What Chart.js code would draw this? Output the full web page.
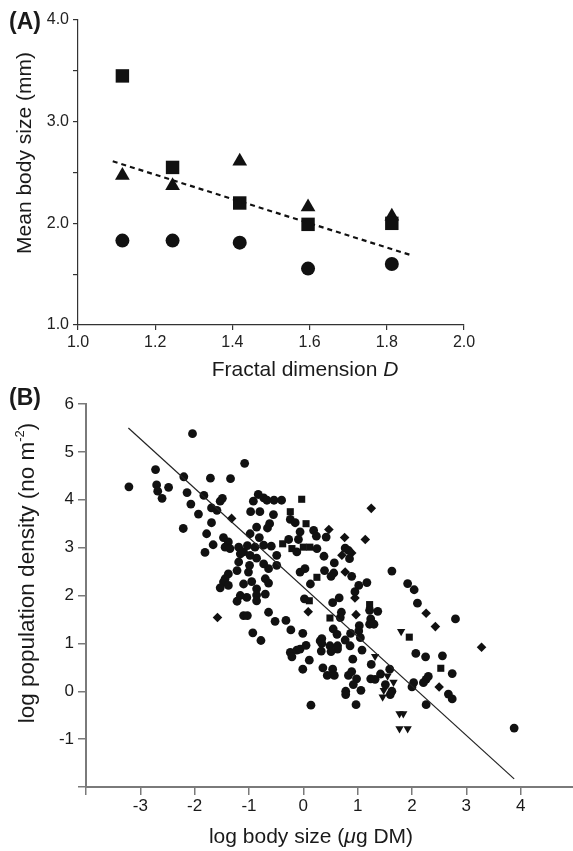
<!DOCTYPE html>
<html>
<head>
<meta charset="utf-8">
<script src="https://cdn.jsdelivr.net/npm/chart.js@4.4.1/dist/chart.umd.min.js"></script>
<style>
  html, body { margin: 0; padding: 0; background: #fff; overflow: hidden; }
  body { width: 573px; height: 851px; position: relative; font-family: "Liberation Sans", Arial, sans-serif; color: #1a1a1a; }
  .wrap { position: absolute; left: 0; }
  #wrapA { top: 0; width: 573px; height: 380px; }
  #wrapB { top: 370px; width: 580px; height: 481px; }
  .lbl { position: absolute; white-space: nowrap; font-size: 21px; line-height: 1; transform: translate(-50%, -50%); }
  .rot { transform: translate(-50%, -50%) rotate(-90deg); }
  .big { font-size: 22.5px; }
  .panel { font-weight: bold; font-size: 23px; }
  sup { font-size: 13px; vertical-align: 10px; line-height: 0; }
</style>
</head>
<body>
<div class="wrap" id="wrapA"><canvas id="chartA" width="573" height="380"></canvas></div>
<div class="wrap" id="wrapB"><canvas id="chartB" width="580" height="481"></canvas></div>

<div class="lbl panel" style="left:25px; top:21px;">(A)</div>
<div class="lbl rot" style="left:23px; top:153px;">Mean body size (mm)</div>
<div class="lbl" style="left:305px; top:368px;">Fractal dimension <i>D</i></div>

<div class="lbl panel" style="left:25px; top:397px;">(B)</div>
<div class="lbl rot big" style="left:27px; top:573px;">log population density (no m<sup>-2</sup>)</div>
<div class="lbl" style="left:311px; top:835px;">log body size (<i>μ</i>g DM)</div>

<script>
// Panel A data
const fractalD = [1.115, 1.245, 1.419, 1.596, 1.813];
const sizeSquares = [3.45, 2.55, 2.20, 1.99, 2.00];
const sizeTriangles = [2.47, 2.37, 2.61, 2.16, 2.07];
const sizeCircles = [1.83, 1.83, 1.81, 1.555, 1.60];
const trendAx = [1.09, 1.86];
const trendAy = [2.61, 1.69];
const xTicksA = [1.0, 1.2, 1.4, 1.6, 1.8, 2.0];
const yTicksA = [1.0, 2.0, 3.0, 4.0];

// Panel B data: [log body size, log density]
const circlesB = [
  [-2.04,5.38],[-1.08,4.76],[-2.72,4.63],[-3.21,4.27],[-2.70,4.31],[-2.68,4.18],[-2.48,4.26],[-2.60,4.03],
  [-2.20,4.48],[-1.71,4.45],[-1.34,4.44],[-2.14,4.15],[-2.07,3.91],[-1.83,4.09],[-1.93,3.70],[-2.21,3.40],
  [-1.69,3.83],[-1.59,3.78],[-1.53,3.97],[-1.49,4.03],[-1.69,3.52],[-1.78,3.29],[-1.81,2.90],[-1.66,3.06],
  [-1.47,3.21],[-1.38,3.12],[-1.44,3.01],[-1.35,2.98],[-1.19,3.01],[-1.10,2.91],[-1.03,3.04],[-0.98,3.29],
  [-0.86,3.43],[-0.81,3.21],[-0.89,3.01],[-0.73,3.05],[-0.62,3.50],[-0.66,3.41],[-0.59,3.03],[-0.92,3.97],
  [-0.83,4.11],[-0.73,4.04],[-0.67,3.99],[-0.54,3.99],[-0.40,3.99],[-0.97,3.75],[-0.80,3.75],[-0.55,3.69],
  [-0.24,3.59],[-0.15,3.52],[-0.06,3.33],[0.19,3.36],[0.24,3.24],[-0.09,3.17],[-0.27,3.17],[-0.12,2.91],
  [0.25,2.98],[-0.49,2.84],[-0.49,2.63],[-0.64,2.56],[-0.73,2.66],[-0.86,2.78],[-0.98,2.84],[-1.16,2.87],
  [-1.19,2.70],[-0.99,2.63],[-1.22,2.52],[-1.01,2.49],[-1.38,2.45],[-1.44,2.35],[-1.47,2.28],[-1.38,2.21],
  [-1.53,2.16],[-1.10,2.24],[-0.95,2.29],[-0.70,2.35],[-0.64,2.26],[-0.86,2.14],[-0.70,2.03],[-0.86,2.01],
  [-1.04,1.96],[-1.16,2.00],[-1.22,1.88],[-0.86,1.89],[-1.10,1.58],[-1.03,1.58],[-0.64,1.65],[-0.52,1.46],
  [-0.32,1.48],[-0.93,1.22],[-0.78,1.06],[-0.23,1.28],[-0.01,1.21],[0.02,1.93],[-0.06,2.49],[0.03,2.56],
  [0.13,2.24],[-0.24,0.81],[-0.12,0.86],[-0.06,0.88],[-0.21,0.72],[0.05,0.96],[0.11,0.65],[-0.01,0.46],
  [0.14,-0.29],[0.31,1.05],
  [0.42,3.22],[0.77,2.99],[0.85,2.77],[0.38,2.82],[0.57,2.68],[0.39,2.52],[0.56,2.47],[0.51,2.40],
  [0.89,2.40],[1.02,2.21],[1.17,2.27],[0.95,2.08],[1.63,2.51],[1.92,2.25],[2.04,2.12],[2.10,1.84],
  [2.80,1.51],[0.54,1.85],[0.66,1.95],[0.70,1.65],[0.68,1.54],[1.22,1.69],[1.37,1.67],[1.24,1.51],
  [1.22,1.40],[1.30,1.40],[1.03,1.37],[1.02,1.26],[1.05,1.12],[0.87,1.21],[0.77,1.07],[0.55,1.30],
  [0.62,1.19],[0.34,1.10],[0.34,1.00],[0.49,0.95],[0.63,0.95],[0.63,0.88],[0.51,0.83],[0.33,0.84],
  [0.86,0.95],[1.08,0.86],[0.91,0.67],[1.25,0.56],[0.36,0.49],[0.54,0.46],[0.44,0.33],[0.57,0.33],
  [0.83,0.33],[0.89,0.41],[0.98,0.26],[0.92,0.14],[1.24,0.26],[1.32,0.25],[1.42,0.36],[1.59,0.46],
  [1.51,0.14],[1.63,0.00],[1.60,-0.07],[1.06,0.02],[0.78,0.00],[0.78,-0.07],[0.97,-0.28],[2.07,0.79],
  [2.25,0.72],[2.56,0.74],[2.74,0.37],[2.30,0.31],[2.26,0.25],[2.21,0.18],[2.03,0.18],[2.00,0.09],
  [2.67,-0.06],[2.74,-0.16],[2.26,-0.28],[3.88,-0.77],[0.83,2.94]
];
const diamondsB = [
  [-1.32,3.61],[-1.58,1.54],[0.09,1.66],[1.25,3.82],[0.47,3.38],[0.76,3.21],[1.14,3.17],[0.89,2.89],
  [0.71,2.84],[0.77,2.49],[0.95,1.95],[2.26,1.63],[2.43,1.35],[3.28,0.92],[0.97,1.60],[2.50,0.09]
];
const squaresB = [
  [-0.03,4.01],[-0.24,3.75],[0.05,3.50],[-0.38,3.08],[-0.21,2.98],[0.00,3.01],[0.12,3.01],[0.11,1.89],
  [0.49,1.53],[1.22,1.81],[1.95,1.13],[2.53,0.48],[0.25,2.38]
];
const trianglesB = [
  [1.80,1.25],[1.32,0.73],[1.55,0.32],[1.66,0.19],[1.48,0.02],[1.46,-0.12],[1.77,-0.47],[1.84,-0.47],
  [1.77,-0.78],[1.92,-0.78]
];
const fitBx = [-3.22, 3.88];
const fitBy = [5.50, -1.83];
const xTicksB = [-3, -2, -1, 0, 1, 2, 3, 4];
const yTicksB = [-1, 0, 1, 2, 3, 4, 5, 6];

Chart.defaults.font.family = '"Liberation Sans", Arial, sans-serif';
Chart.defaults.color = '#1a1a1a';

const ink = '#111';
const zip = (xs, ys) => xs.map((x, i) => ({ x: x, y: ys[i] }));
const pairs = arr => arr.map(p => ({ x: p[0], y: p[1] }));
const near = (list, v) => list.some(t => Math.abs(t - v) < 1e-6);

function marks(data, style, radius, extra) {
  return Object.assign({
    data: data,
    pointStyle: style,
    pointRadius: radius,
    pointHoverRadius: radius,
    backgroundColor: ink,
    borderColor: ink,
    borderWidth: 0,
    showLine: false
  }, extra || {});
}

// Panel A
new Chart(document.getElementById('chartA'), {
  type: 'scatter',
  data: {
    datasets: [
      {
        data: zip(trendAx, trendAy),
        showLine: true,
        borderColor: ink,
        borderWidth: 2.2,
        borderDash: [5, 4],
        pointRadius: 0
      },
      marks(zip(fractalD, sizeSquares), 'rect', 9.5),
      marks(zip(fractalD, sizeTriangles), 'triangle', 8.5),
      marks(zip(fractalD, sizeCircles), 'circle', 7)
    ]
  },
  options: {
    responsive: false,
    animation: false,
    layout: { padding: { top: 20, right: 109, bottom: 0, left: 0 } },
    plugins: { legend: { display: false }, tooltip: { enabled: false } },
    scales: {
      x: {
        type: 'linear', min: 1, max: 2,
        ticks: {
          stepSize: 0.2, padding: 3, color: '#222', font: { size: 16 }, maxRotation: 0, autoSkip: false,
          callback: v => near(xTicksA, v) ? v.toFixed(1) : ''
        },
        grid: { drawOnChartArea: false, tickLength: 5, color: '#333', lineWidth: 1.2 },
        border: { color: '#333', width: 1.2 },
        afterFit: s => { s.height = 55; }
      },
      y: {
        type: 'linear', min: 1, max: 4,
        ticks: {
          stepSize: 0.5, padding: 4, color: '#222', font: { size: 16 }, autoSkip: false,
          callback: v => near(yTicksA, v) ? v.toFixed(1) : ''
        },
        grid: { drawOnChartArea: false, tickLength: 5, color: '#333', lineWidth: 1.2 },
        border: { color: '#333', width: 1.2 },
        afterFit: s => { s.width = 78; }
      }
    }
  }
});

// Panel B
new Chart(document.getElementById('chartB'), {
  type: 'scatter',
  data: {
    datasets: [
      {
        data: zip(fitBx, fitBy),
        showLine: true,
        borderColor: '#222',
        borderWidth: 1.2,
        pointRadius: 0
      },
      marks(pairs(circlesB), 'circle', 4.4),
      marks(pairs(diamondsB), 'rectRot', 4.8),
      marks(pairs(squaresB), 'rect', 5),
      marks(pairs(trianglesB), 'triangle', 4.8, { pointRotation: 180 })
    ]
  },
  options: {
    responsive: false,
    animation: false,
    layout: { padding: { top: 34, right: 5, bottom: 0, left: 0 } },
    plugins: { legend: { display: false }, tooltip: { enabled: false } },
    scales: {
      x: {
        type: 'linear', min: -4, max: 5,
        ticks: {
          stepSize: 1, padding: 1, color: '#1a1a1a', font: { size: 17 }, maxRotation: 0, autoSkip: false,
          callback: v => near(xTicksB, v) ? String(v) : ''
        },
        grid: { drawOnChartArea: false, tickLength: 8, color: '#7a7a7a', lineWidth: 1.5 },
        border: { color: '#7a7a7a', width: 2 },
        afterFit: s => { s.height = 64; }
      },
      y: {
        type: 'linear', min: -2, max: 6,
        ticks: {
          stepSize: 1, padding: 4, color: '#1a1a1a', font: { size: 17 }, autoSkip: false,
          callback: v => near(yTicksB, v) ? String(v) : ''
        },
        grid: { drawOnChartArea: false, tickLength: 8, color: '#7a7a7a', lineWidth: 1.5 },
        border: { color: '#7a7a7a', width: 2 },
        afterFit: s => { s.width = 86; }
      }
    }
  }
});
</script>
</body>
</html>
